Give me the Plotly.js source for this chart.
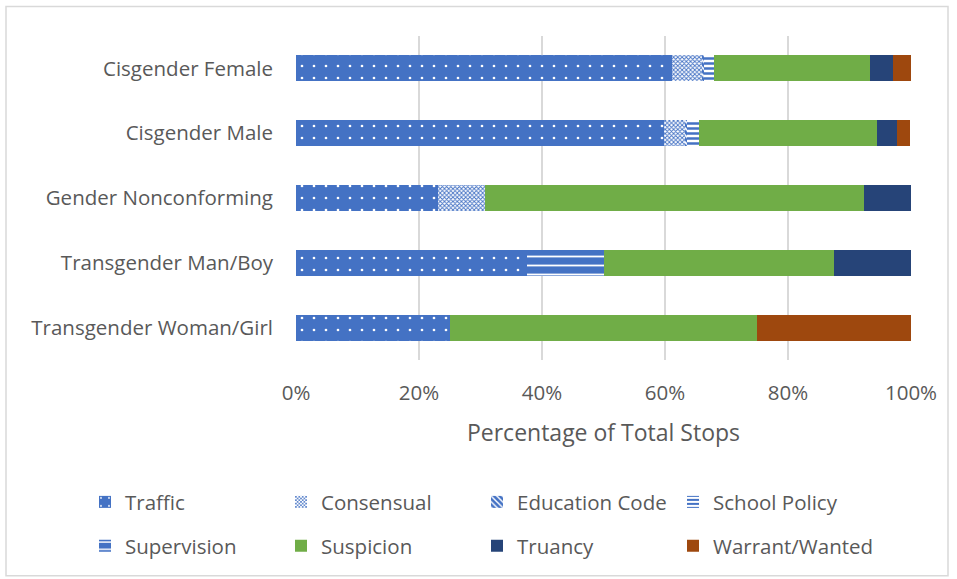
<!DOCTYPE html>
<html>
<head>
<meta charset="utf-8">
<script src="https://cdn.plot.ly/plotly-3.0.1.min.js"></script>
<style>html,body{margin:0;padding:0;background:#fff;}#chart{width:957px;height:579px;}</style>
</head>
<body>
<div id="chart"></div>
<script>
var categories = ["Cisgender Female", "Cisgender Male", "Gender Nonconforming", "Transgender Man/Boy", "Transgender Woman/Girl"];
var traffic      = [61.1, 59.8, 23.1, 37.5, 25.0];
var consensual   = [4.9, 3.4, 7.7, 0, 0];
var educationCode= [0.3, 0.3, 0, 0, 0];
var schoolPolicy = [1.6, 2.0, 0, 0, 0];
var supervision  = [0, 0, 0, 12.5, 0];
var suspicion    = [25.4, 29.0, 61.5, 37.5, 50.0];
var truancy      = [3.8, 3.3, 7.7, 12.5, 0];
var warrant      = [2.9, 2.0, 0, 0, 25.0];
var tickVals = [0, 20, 40, 60, 80, 100];
var tickText = ["0%", "20%", "40%", "60%", "80%", "100%"];

var blue = "#4472C4";
function tr(name, vals, color, legendName, pattern) {
  var m = {color: color, line: {width: 0}};
  if (pattern) m.pattern = pattern;
  return {type: "bar", orientation: "h", name: name, x: vals, y: categories, marker: m,
          legend: legendName, hoverinfo: "x+name"};
}
var data = [
  tr("Traffic", traffic, blue, "legend", {shape: ".", fgcolor: "#ffffff", bgcolor: blue, size: 12, solidity: 0.04, fillmode: "replace"}),
  tr("Consensual", consensual, blue, "legend", {shape: "x", fgcolor: blue, bgcolor: "#ffffff", size: 3, solidity: 0.5, fillmode: "replace"}),
  tr("Education Code", educationCode, blue, "legend", {shape: "\\", fgcolor: "#ffffff", bgcolor: blue, size: 5, solidity: 0.35, fillmode: "replace"}),
  tr("School Policy", schoolPolicy, blue, "legend3", {shape: "-", fgcolor: blue, bgcolor: "#ffffff", size: 5, solidity: 0.5, fillmode: "replace"}),
  tr("Supervision", supervision, blue, "legend2", {shape: "-", fgcolor: "#ffffff", bgcolor: blue, size: 9, solidity: 0.2, fillmode: "replace"}),
  tr("Suspicion", suspicion, "#70AD47", "legend2"),
  tr("Truancy", truancy, "#264478", "legend2"),
  tr("Warrant/Wanted", warrant, "#9E480E", "legend4")
];

var L = 296, R = 911, T = 35.5, B = 360.5, W = 957, H = 579;
var pw = R - L, ph = B - T;
function px(x) { return (x - L) / pw; }
function py(y) { return (B - y) / ph; }

var fs = 20.5;
function legendAt(xl, yc, ew) {
  var o = {
    orientation: "h", x: px(xl), xanchor: "left", y: py(yc), yanchor: "middle",
    traceorder: "normal", font: {size: fs, color: "#595959"}, itemwidth: 30,
    bgcolor: "rgba(0,0,0,0)"
  };
  if (ew) { o.entrywidth = ew; o.entrywidthmode = "pixels"; }
  return o;
}

var layout = {
  width: W, height: H,
  margin: {l: L, r: W - R, t: T, b: H - B, pad: 0},
  paper_bgcolor: "#ffffff", plot_bgcolor: "#ffffff",
  barmode: "stack", bargap: 0.6,
  font: {family: "Open Sans, sans-serif", color: "#595959", size: fs},
  xaxis: {
    range: [0, 100], tickvals: tickVals, ticktext: tickText,
    showgrid: true, gridcolor: "#d9d9d9", gridwidth: 2, zeroline: false,
    showline: false, ticks: "", tickfont: {size: fs, color: "#595959"},
    ticklabelstandoff: 18,
    title: {text: "Percentage of Total Stops", font: {size: 23, color: "#595959"}, standoff: 20},
    fixedrange: true
  },
  yaxis: {
    autorange: "reversed", showgrid: false, zeroline: false, showline: false,
    ticks: "", tickfont: {size: fs, color: "#595959"}, ticklabelstandoff: 22, fixedrange: true
  },
  legend: legendAt(85, 503, 151),
  legend2: legendAt(85, 547, 151),
  legend3: legendAt(85 + 3 * 196, 503),
  legend4: legendAt(85 + 3 * 196, 547),
  shapes: [{
    type: "rect", xref: "paper", yref: "paper",
    x0: px(6), x1: px(948), y0: py(6), y1: py(577),
    line: {color: "#d9d9d9", width: 1.5}, fillcolor: "rgba(0,0,0,0)", layer: "below"
  }],
  showlegend: true
};
Plotly.newPlot("chart", data, layout, {displayModeBar: false, staticPlot: true});
</script>
</body>
</html>
